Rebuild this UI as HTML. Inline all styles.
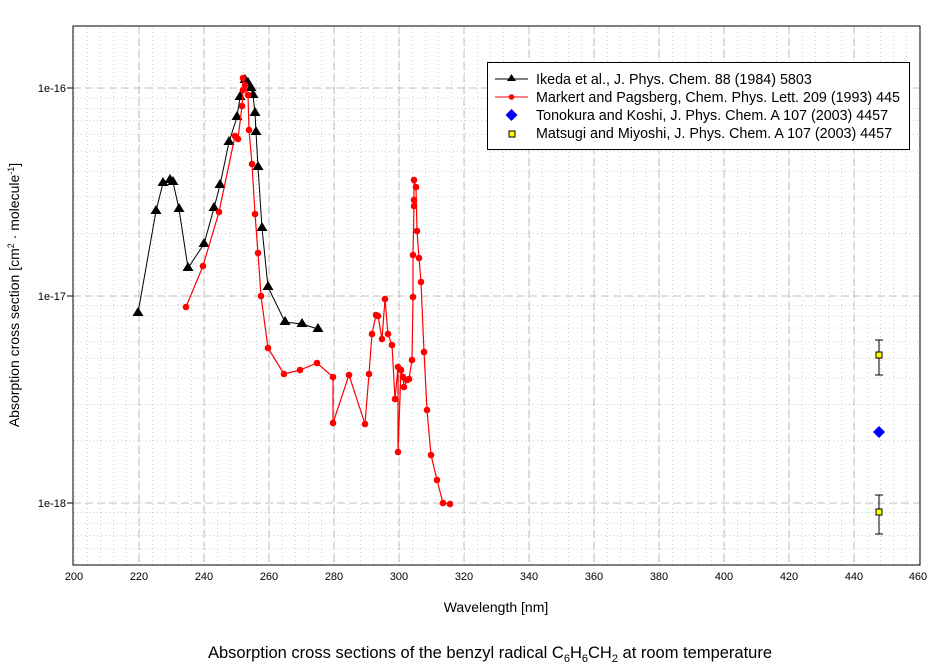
<!DOCTYPE html>
<html><head><meta charset="utf-8"><style>body{margin:0;background:#fff}svg{display:block}text{font-family:"Liberation Sans",Arial,sans-serif}</style></head>
<body>
<svg width="944" height="670" viewBox="0 0 944 670" xmlns="http://www.w3.org/2000/svg">
<defs>
<pattern id="vmin" x="74" y="0" width="13" height="4" patternUnits="userSpaceOnUse"><rect x="0" y="0" width="1" height="1" fill="#d0d0d0"/></pattern>
</defs>
<rect x="73" y="26" width="847" height="539" fill="url(#vmin)"/>
<g stroke="#c8c8c8" stroke-width="1" stroke-dasharray="1,3" fill="none">
<path d="M73 233.5H920M73 197H920M73 171H920M73 151H920M73 134.5H920M73 120.6H920M73 108.6H920M73 98H920
M73 441H920M73 404.5H920M73 378.5H920M73 358.5H920M73 342H920M73 328H920M73 316H920M73 305.5H920
M73 512.5H920M73 523H920M73 535.6H920M73 549H920"/>
</g>
<g stroke="#c0c0c0" stroke-width="1" stroke-dasharray="8,4" fill="none">
<path d="M139 26V565M204 26V565M269 26V565M334 26V565M399 26V565M464 26V565M529 26V565M594 26V565M659 26V565M724 26V565M789 26V565M854 26V565
M73 88H920M73 296H920M73 503H920"/>
</g>
<rect x="73" y="26" width="847" height="539" fill="none" stroke="#000" stroke-width="1"/>
<g stroke="#000"><path d="M67 88H73M67 296H73M67 503H73"/></g>
<g font-size="11" text-anchor="end"><text x="66" y="92">1e-16</text><text x="66" y="300">1e-17</text><text x="66" y="507">1e-18</text></g>
<g font-size="11" text-anchor="middle">
<text x="74" y="580">200</text><text x="139" y="580">220</text><text x="204" y="580">240</text><text x="269" y="580">260</text><text x="334" y="580">280</text><text x="399" y="580">300</text><text x="464" y="580">320</text><text x="529" y="580">340</text><text x="594" y="580">360</text><text x="659" y="580">380</text><text x="724" y="580">400</text><text x="789" y="580">420</text><text x="854" y="580">440</text><text x="918" y="580">460</text>
</g>
<text x="496" y="612" font-size="14" text-anchor="middle">Wavelength [nm]</text>
<text transform="translate(19,295) rotate(-90)" font-size="14" text-anchor="middle">Absorption cross section [cm<tspan dy="-5" font-size="9">2</tspan><tspan dy="5"> · molecule</tspan><tspan dy="-5" font-size="9">-1</tspan><tspan dy="5">]</tspan></text>
<text x="490" y="658" font-size="16.5" text-anchor="middle">Absorption cross sections of the benzyl radical C<tspan dy="4" font-size="11">6</tspan><tspan dy="-4">H</tspan><tspan dy="4" font-size="11">6</tspan><tspan dy="-4">CH</tspan><tspan dy="4" font-size="11">2</tspan><tspan dy="-4"> at room temperature</tspan></text>
<polyline fill="none" stroke="#000" stroke-width="1" points="138,313 156,211 163,183 170,180 173,182 179,209 188,268 204,244 214,208 220,185 229,142 237,117 240,97 245,80 248,83 251,88 253,95 255,113 256,132 258,167 262,228 268,287 285,322 302,324 318,329"/>
<g fill="#000">
<path d="M138 307l5.5 9h-11zM156 205l5.5 9h-11zM163 177l5.5 9h-11zM170 174l5.5 9h-11zM173 176l5.5 9h-11zM179 203l5.5 9h-11zM188 262l5.5 9h-11zM204 238l5.5 9h-11zM214 202l5.5 9h-11zM220 179l5.5 9h-11zM229 136l5.5 9h-11zM237 111l5.5 9h-11zM240 91l5.5 9h-11zM245 74l5.5 9h-11zM248 77l5.5 9h-11zM251 82l5.5 9h-11zM253 89l5.5 9h-11zM255 107l5.5 9h-11zM256 126l5.5 9h-11zM258 161l5.5 9h-11zM262 222l5.5 9h-11zM268 281l5.5 9h-11zM285 316l5.5 9h-11zM302 318l5.5 9h-11zM318 323l5.5 9h-11z"/>
</g>
<polyline fill="none" stroke="#f00" stroke-width="1.2" points="186,307 203,266 219,212 235,136 238,139 242,106 243,90 243,78 245,85 248,95 249,130 252,164 255,214 258,253 261,296 268,348 284,374 300,370 317,363 333,377 333,423 349,375 365,424 369,374 372,334 376,315 378,316 382,339 385,299 388,334 392,345 395,399 398,367 398,452 401,370 403,377 404,387 407,380 409,379 412,360 413,297 413,255 414,206 414,200 414,180 416,187 417,231 419,258 421,282 424,352 427,410 431,455 437,480 443,503 450,504"/>
<g fill="#f00">
<circle cx="186" cy="307" r="3.3"/><circle cx="203" cy="266" r="3.3"/><circle cx="219" cy="212" r="3.3"/><circle cx="235" cy="136" r="3.3"/><circle cx="238" cy="139" r="3.3"/><circle cx="242" cy="106" r="3.3"/><circle cx="243" cy="90" r="3.3"/><circle cx="243" cy="78" r="3.3"/><circle cx="245" cy="85" r="3.3"/><circle cx="248" cy="95" r="3.3"/><circle cx="249" cy="130" r="3.3"/><circle cx="252" cy="164" r="3.3"/><circle cx="255" cy="214" r="3.3"/><circle cx="258" cy="253" r="3.3"/><circle cx="261" cy="296" r="3.3"/><circle cx="268" cy="348" r="3.3"/><circle cx="284" cy="374" r="3.3"/><circle cx="300" cy="370" r="3.3"/><circle cx="317" cy="363" r="3.3"/><circle cx="333" cy="377" r="3.3"/><circle cx="333" cy="423" r="3.3"/><circle cx="349" cy="375" r="3.3"/><circle cx="365" cy="424" r="3.3"/><circle cx="369" cy="374" r="3.3"/><circle cx="372" cy="334" r="3.3"/><circle cx="376" cy="315" r="3.3"/><circle cx="378" cy="316" r="3.3"/><circle cx="382" cy="339" r="3.3"/><circle cx="385" cy="299" r="3.3"/><circle cx="388" cy="334" r="3.3"/><circle cx="392" cy="345" r="3.3"/><circle cx="395" cy="399" r="3.3"/><circle cx="398" cy="367" r="3.3"/><circle cx="398" cy="452" r="3.3"/><circle cx="401" cy="370" r="3.3"/><circle cx="403" cy="377" r="3.3"/><circle cx="404" cy="387" r="3.3"/><circle cx="407" cy="380" r="3.3"/><circle cx="409" cy="379" r="3.3"/><circle cx="412" cy="360" r="3.3"/><circle cx="413" cy="297" r="3.3"/><circle cx="413" cy="255" r="3.3"/><circle cx="414" cy="206" r="3.3"/><circle cx="414" cy="200" r="3.3"/><circle cx="414" cy="180" r="3.3"/><circle cx="416" cy="187" r="3.3"/><circle cx="417" cy="231" r="3.3"/><circle cx="419" cy="258" r="3.3"/><circle cx="421" cy="282" r="3.3"/><circle cx="424" cy="352" r="3.3"/><circle cx="427" cy="410" r="3.3"/><circle cx="431" cy="455" r="3.3"/><circle cx="437" cy="480" r="3.3"/><circle cx="443" cy="503" r="3.3"/><circle cx="450" cy="504" r="3.3"/>
</g>
<path d="M879 426l6 6-6 6-6-6z" fill="#00f"/>
<g stroke="#000" fill="none"><path d="M879 340V375M875 340H883M875 375H883M879 495V534M875 495H883M875 534H883"/></g>
<rect x="876" y="352" width="6" height="6" fill="#ff0" stroke="#000"/>
<rect x="876" y="509" width="6" height="6" fill="#ff0" stroke="#000"/>
<rect x="487.5" y="62.5" width="422" height="87" fill="#fff" stroke="#000"/>
<path d="M495 79H528" stroke="#000"/><path d="M511.5 74l4.5 7h-9z" fill="#000"/>
<path d="M495 97H528" stroke="#f00"/><circle cx="511.5" cy="97" r="2.8" fill="#f00"/>
<path d="M511.5 109l6 6-6 6-6-6z" fill="#00f"/>
<rect x="509" y="131" width="6" height="6" fill="#ff0" stroke="#000"/>
<g font-size="14.3"><text x="536" y="84">Ikeda et al., J. Phys. Chem. 88 (1984) 5803</text><text x="536" y="102">Markert and Pagsberg, Chem. Phys. Lett. 209 (1993) 445</text><text x="536" y="120">Tonokura and Koshi, J. Phys. Chem. A 107 (2003) 4457</text><text x="536" y="138">Matsugi and Miyoshi, J. Phys. Chem. A 107 (2003) 4457</text></g>
</svg>
</body></html>
